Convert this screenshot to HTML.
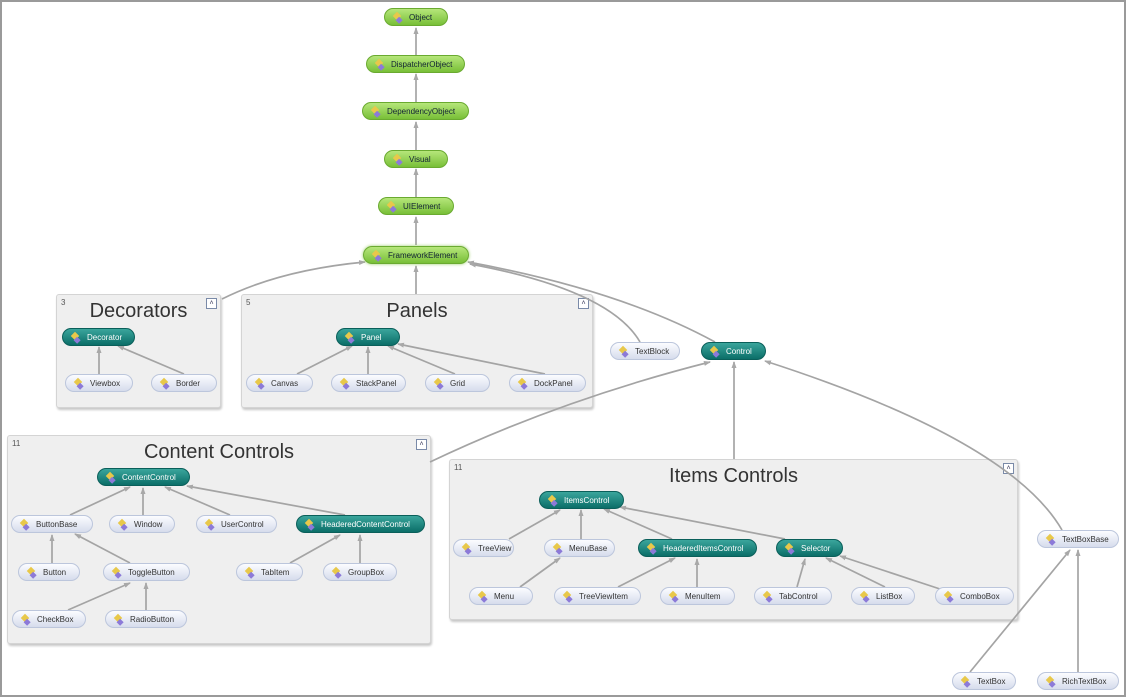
<!DOCTYPE html>
<html><head><meta charset="utf-8"><style>
body{margin:0;width:1126px;height:697px;overflow:hidden;background:#fff;font-family:"Liberation Sans",sans-serif;position:relative}
.frame{position:absolute;left:0;top:0;width:1122px;height:693px;border:2px solid #9a9a9a}
.box{position:absolute;background:#efefef;border:1px solid #d4d4d4;border-radius:3px;box-shadow:1px 2px 2px #c8c8c8}
.box .n{position:absolute;left:4px;top:3px;font-size:8px;color:#555}
.box .t{position:absolute;left:0;right:0;text-align:center;font-size:20px;color:#333}
.box .c{position:absolute;right:3px;top:3px;width:9px;height:9px;border:1px solid #7a8aa8;background:#fff;font-size:7px;line-height:9px;text-align:center;color:#335}
.nd{position:absolute;height:18px;border-radius:10px;font-size:8px;line-height:18px;box-sizing:border-box;white-space:nowrap;padding-left:24px}
.nd i{position:absolute;left:9px;top:4px;width:6px;height:6px;background:#e8c84a;transform:rotate(45deg)}
.nd i:after{content:"";position:absolute;left:5px;top:2px;width:5px;height:5px;background:#8c7ad8}
.l{background:linear-gradient(#fbfcff,#d6dcec);border:1px solid #bcc6dc;color:#333}
.tl{background:linear-gradient(#3aa59c,#0b6e68);border:1px solid #0a5f5a;color:#fff}
.g{background:linear-gradient(#b6e67a,#78bf38);border:1px solid #6aaa30;color:#123}
svg{position:absolute;left:0;top:0}
</style></head><body>
<div class="frame"></div>
<div class="box" style="left:56px;top:294px;width:163px;height:112px"><span class="n">3</span><div class="t" style="top:5px">Decorators</div><span class="c">˄</span></div>
<div class="box" style="left:241px;top:294px;width:350px;height:112px"><span class="n">5</span><div class="t" style="top:5px">Panels</div><span class="c">˄</span></div>
<div class="box" style="left:7px;top:435px;width:422px;height:207px"><span class="n">11</span><div class="t" style="top:5px">Content Controls</div><span class="c">˄</span></div>
<div class="box" style="left:449px;top:459px;width:567px;height:159px"><span class="n">11</span><div class="t" style="top:5px">Items Controls</div><span class="c">˄</span></div>
<svg width="1126" height="697">
<defs><marker id="a" markerUnits="userSpaceOnUse" markerWidth="7" markerHeight="6" refX="6" refY="3" orient="auto"><path d="M0,0.5L7,3L0,5.5z" fill="#a8a8a8"/></marker></defs>
<g stroke="#a4a4a4" stroke-width="1.7" fill="none" marker-end="url(#a)">
<line x1="416" y1="55" x2="416" y2="28"/><line x1="416" y1="102" x2="416" y2="74"/><line x1="416" y1="150" x2="416" y2="122"/><line x1="416" y1="197" x2="416" y2="169"/><line x1="416" y1="245" x2="416" y2="217"/><line x1="416" y1="294" x2="416" y2="266"/>
<path d="M222,299 Q280,270 365,262"/>
<path d="M640,342 Q610,290 470,264"/>
<path d="M715,342 Q620,290 468,262"/>
<path d="M430,462 Q560,400 710,362"/>
<line x1="734" y1="459" x2="734" y2="362"/>
<path d="M1062,530 Q1010,440 765,361"/>
<line x1="99" y1="374" x2="99" y2="347"/><line x1="184" y1="374" x2="118" y2="346"/>
<line x1="297" y1="374" x2="352" y2="346"/><line x1="368" y1="374" x2="368" y2="347"/><line x1="455" y1="374" x2="388" y2="346"/><line x1="545" y1="374" x2="398" y2="344"/>
<line x1="70" y1="515" x2="130" y2="487"/><line x1="143" y1="515" x2="143" y2="488"/><line x1="230" y1="515" x2="165" y2="487"/><line x1="345" y1="515" x2="187" y2="486"/>
<line x1="52" y1="563" x2="52" y2="535"/><line x1="130" y1="563" x2="75" y2="534"/><line x1="68" y1="610" x2="130" y2="583"/><line x1="146" y1="610" x2="146" y2="583"/>
<line x1="290" y1="563" x2="340" y2="535"/><line x1="360" y1="563" x2="360" y2="535"/>
<line x1="509" y1="539" x2="560" y2="510"/><line x1="581" y1="539" x2="581" y2="510"/><line x1="672" y1="539" x2="604" y2="509"/><line x1="785" y1="539" x2="620" y2="507"/>
<line x1="520" y1="587" x2="560" y2="558"/><line x1="618" y1="587" x2="675" y2="558"/><line x1="697" y1="587" x2="697" y2="559"/><line x1="797" y1="587" x2="805" y2="559"/><line x1="885" y1="587" x2="826" y2="558"/><line x1="940" y1="589" x2="840" y2="556"/>
<line x1="970" y1="672" x2="1070" y2="550"/><line x1="1078" y1="672" x2="1078" y2="550"/>
</g></svg>
<div class="nd g" style="left:384px;top:8px;width:64px">Object<i></i></div>
<div class="nd g" style="left:366px;top:55px;width:99px">DispatcherObject<i></i></div>
<div class="nd g" style="left:362px;top:102px;width:107px">DependencyObject<i></i></div>
<div class="nd g" style="left:384px;top:150px;width:64px">Visual<i></i></div>
<div class="nd g" style="left:378px;top:197px;width:76px">UIElement<i></i></div>
<div class="nd g" style="left:363px;top:246px;width:106px;box-shadow:0 0 3px #9c6">FrameworkElement<i></i></div>
<div class="nd tl" style="left:62px;top:328px;width:73px">Decorator<i></i></div>
<div class="nd l" style="left:65px;top:374px;width:68px">Viewbox<i></i></div>
<div class="nd l" style="left:151px;top:374px;width:66px">Border<i></i></div>
<div class="nd tl" style="left:336px;top:328px;width:64px">Panel<i></i></div>
<div class="nd l" style="left:246px;top:374px;width:67px">Canvas<i></i></div>
<div class="nd l" style="left:331px;top:374px;width:75px">StackPanel<i></i></div>
<div class="nd l" style="left:425px;top:374px;width:65px">Grid<i></i></div>
<div class="nd l" style="left:509px;top:374px;width:77px">DockPanel<i></i></div>
<div class="nd l" style="left:610px;top:342px;width:70px">TextBlock<i></i></div>
<div class="nd tl" style="left:701px;top:342px;width:65px">Control<i></i></div>
<div class="nd tl" style="left:97px;top:468px;width:93px">ContentControl<i></i></div>
<div class="nd l" style="left:11px;top:515px;width:82px">ButtonBase<i></i></div>
<div class="nd l" style="left:109px;top:515px;width:66px">Window<i></i></div>
<div class="nd l" style="left:196px;top:515px;width:81px">UserControl<i></i></div>
<div class="nd tl" style="left:296px;top:515px;width:129px">HeaderedContentControl<i></i></div>
<div class="nd l" style="left:18px;top:563px;width:62px">Button<i></i></div>
<div class="nd l" style="left:103px;top:563px;width:87px">ToggleButton<i></i></div>
<div class="nd l" style="left:236px;top:563px;width:67px">TabItem<i></i></div>
<div class="nd l" style="left:323px;top:563px;width:74px">GroupBox<i></i></div>
<div class="nd l" style="left:12px;top:610px;width:74px">CheckBox<i></i></div>
<div class="nd l" style="left:105px;top:610px;width:82px">RadioButton<i></i></div>
<div class="nd tl" style="left:539px;top:491px;width:85px">ItemsControl<i></i></div>
<div class="nd l" style="left:453px;top:539px;width:61px">TreeView<i></i></div>
<div class="nd l" style="left:544px;top:539px;width:71px">MenuBase<i></i></div>
<div class="nd tl" style="left:638px;top:539px;width:119px">HeaderedItemsControl<i></i></div>
<div class="nd tl" style="left:776px;top:539px;width:67px">Selector<i></i></div>
<div class="nd l" style="left:469px;top:587px;width:64px">Menu<i></i></div>
<div class="nd l" style="left:554px;top:587px;width:87px">TreeViewItem<i></i></div>
<div class="nd l" style="left:660px;top:587px;width:75px">MenuItem<i></i></div>
<div class="nd l" style="left:754px;top:587px;width:78px">TabControl<i></i></div>
<div class="nd l" style="left:851px;top:587px;width:64px">ListBox<i></i></div>
<div class="nd l" style="left:935px;top:587px;width:79px">ComboBox<i></i></div>
<div class="nd l" style="left:1037px;top:530px;width:82px">TextBoxBase<i></i></div>
<div class="nd l" style="left:952px;top:672px;width:64px">TextBox<i></i></div>
<div class="nd l" style="left:1037px;top:672px;width:82px">RichTextBox<i></i></div>
</body></html>
